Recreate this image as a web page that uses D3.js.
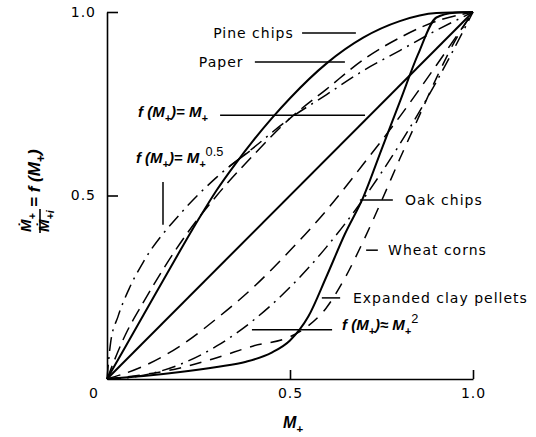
<!DOCTYPE html>
<html>
<head>
<meta charset="utf-8">
<script src="https://cdn.jsdelivr.net/npm/d3@7"></script>
<style>
  body { margin: 0; background: #fff; }
  svg { display: block; }
  .lbl { font-family: "DejaVu Sans", sans-serif; font-size: 14px; letter-spacing: 1px; fill: #000; }
  .math { font-family: "Liberation Sans", "DejaVu Sans", sans-serif; font-size: 14px; font-weight: bold; font-style: italic; fill: #000; }
  .tick text { font-family: "DejaVu Sans", sans-serif; font-size: 14px; letter-spacing: 1px; fill: #000; }
</style>
</head>
<body>
<svg width="536" height="437"></svg>
<script>
// values (M+ on x, f(M+) on y)
const pineM  = [0, 0.1, 0.2, 0.25, 0.3, 0.35, 0.4, 0.45, 0.5, 0.6, 0.7, 0.8, 0.9, 1];
const pineF  = [0, 0.175, 0.35, 0.435, 0.515, 0.585, 0.65, 0.71, 0.765, 0.86, 0.93, 0.975, 0.997, 1];
const paperM = [0, 0.05, 0.1, 0.2, 0.3, 0.4, 0.5, 0.6, 0.7, 0.8, 0.9, 1];
const paperF = [0, 0.12, 0.21, 0.37, 0.5, 0.61, 0.71, 0.79, 0.87, 0.93, 0.975, 1];
const linM   = [0, 1];
const linF   = [0, 1];
const sqrtM  = [0, 0.01, 0.03, 0.06, 0.1, 0.2, 0.3, 0.4, 0.5, 0.6, 0.7, 0.8, 0.9, 1];
const sqrtF  = [0, 0.1, 0.17, 0.245, 0.32, 0.45, 0.55, 0.63, 0.71, 0.775, 0.84, 0.895, 0.95, 1];
const oakM   = [0, 0.1, 0.2, 0.3, 0.38, 0.45, 0.5, 0.55, 0.6, 0.65, 0.7, 0.75, 0.8, 0.85, 0.9, 0.95, 1];
const oakF   = [0, 0.008, 0.019, 0.033, 0.047, 0.072, 0.105, 0.17, 0.28, 0.395, 0.495, 0.625, 0.755, 0.885, 0.985, 0.998, 1];
const wheatM = [0, 0.1, 0.2, 0.3, 0.4, 0.5, 0.55, 0.6, 0.65, 0.7, 0.75, 0.8, 0.85, 0.9, 0.95, 1];
const wheatF = [0, 0.012, 0.03, 0.058, 0.09, 0.115, 0.145, 0.195, 0.275, 0.375, 0.485, 0.6, 0.71, 0.82, 0.92, 1];
const clayM  = [0, 0.1, 0.2, 0.3, 0.4, 0.5, 0.6, 0.7, 0.8, 0.9, 1];
const clayF  = [0, 0.035, 0.09, 0.165, 0.25, 0.35, 0.46, 0.585, 0.715, 0.855, 1];
const sqM    = [0, 0.1, 0.2, 0.3, 0.4, 0.5, 0.6, 0.7, 0.8, 0.9, 1];
const sqF    = [0, 0.01, 0.04, 0.09, 0.16, 0.25, 0.36, 0.49, 0.64, 0.81, 1];

const xTicks = [0.5, 1.0];
const yTicks = [0.5, 1.0];

const svg = d3.select('svg');
const margin = { left: 107, top: 12 };
const inner = { width: 366, height: 367 };

const xScale = d3.scaleLinear().domain([0, 1]).range([0, inner.width]);
const yScale = d3.scaleLinear().domain([0, 1]).range([inner.height, 0]);

const g = svg.append('g').attr('transform', `translate(${margin.left},${margin.top})`);

// axes, ticks point inward
const xAxis = d3.axisBottom(xScale).tickValues(xTicks).tickFormat(d3.format('.1f'))
    .tickSizeInner(-9).tickSizeOuter(0).tickPadding(9);
const yAxis = d3.axisLeft(yScale).tickValues(yTicks).tickFormat(d3.format('.1f'))
    .tickSizeInner(-11).tickSizeOuter(0).tickPadding(11);

const xg = g.append('g').attr('transform', `translate(0,${inner.height})`).call(xAxis);
const yg = g.append('g').call(yAxis);
[xg, yg].forEach(a => {
    a.select('.domain').attr('stroke', '#000').attr('stroke-width', 1.6);
    a.selectAll('.tick line').attr('stroke', '#000').attr('stroke-width', 1.6);
});
g.append('text').attr('class', 'lbl')
    .attr('x', xScale(0) - 18).attr('y', yScale(0) + 19)
    .text('0');

const series = [
    { m: pineM,  f: pineF,  dash: null },
    { m: paperM, f: paperF, dash: '14,7' },
    { m: linM,   f: linF,   dash: null },
    { m: sqrtM,  f: sqrtF,  dash: '14,6,2,6' },
    { m: oakM,   f: oakF,   dash: null },
    { m: wheatM, f: wheatF, dash: '12,9' },
    { m: clayM,  f: clayF,  dash: '14,8' },
    { m: sqM,    f: sqF,    dash: '14,6,2,6' }
];

const line = d3.line()
    .x(d => xScale(d[0]))
    .y(d => yScale(d[1]))
    .curve(d3.curveMonotoneX);

g.selectAll('path.curve').data(series)
    .enter().append('path')
        .attr('class', 'curve')
        .attr('d', s => line(s.m.map((m, i) => [m, s.f[i]])))
        .attr('fill', 'none')
        .attr('stroke', '#000')
        .attr('stroke-width', s => s.dash ? 1.5 : 2)
        .attr('stroke-dasharray', s => s.dash);

// leader lines, in data coordinates
const leaders = [
    [[0.533, 0.943], [0.68, 0.943]],
    [[0.404, 0.864], [0.65, 0.864]],
    [[0.309, 0.719], [0.705, 0.719]],
    [[0.153, 0.537], [0.153, 0.42]],
    [[0.335, 0.58], [0.39, 0.621]],
    [[0.691, 0.488], [0.781, 0.488]],
    [[0.708, 0.351], [0.74, 0.351]],
    [[0.587, 0.221], [0.637, 0.221]],
    [[0.396, 0.134], [0.615, 0.134]]
];
g.selectAll('line.leader').data(leaders)
    .enter().append('line')
        .attr('class', 'leader')
        .attr('x1', d => xScale(d[0][0])).attr('y1', d => yScale(d[0][1]))
        .attr('x2', d => xScale(d[1][0])).attr('y2', d => yScale(d[1][1]))
        .attr('stroke', '#000').attr('stroke-width', 1.5);

const names = [
    { text: 'Pine chips', m: 0.29, f: 0.943 },
    { text: 'Paper', m: 0.251, f: 0.864 },
    { text: 'Oak chips', m: 0.814, f: 0.488 },
    { text: 'Wheat corns', m: 0.768, f: 0.351 },
    { text: 'Expanded clay pellets', m: 0.672, f: 0.221 }
];
g.selectAll('text.name').data(names)
    .enter().append('text')
        .attr('class', 'lbl name')
        .attr('x', d => xScale(d.m))
        .attr('y', d => yScale(d.f))
        .attr('dy', '0.36em')
        .text(d => d.text);

// math labels: parts of [text, kind]
const mathLabel = (parent, x, y, parts, size) => {
    const t = parent.append('text').attr('class', 'math')
        .attr('x', x).attr('y', y).attr('dy', '0.36em')
        .style('font-size', size + 'px');
    let shift = 0;
    parts.forEach(([txt, kind]) => {
        const target = kind === 'sub' ? 5 : kind === 'sup' ? -7 : 0;
        const sp = t.append('tspan').text(txt)
            .attr('dy', target - shift);
        if (kind === 'sub') sp.style('font-size', (size * 0.72) + 'px');
        if (kind === 'sup') sp.style('font-size', (size * 0.85) + 'px').style('font-weight', 'normal').style('font-style', 'normal');
        shift = target;
    });
    return t;
};
const fEq = [['f (M', 'n'], ['+', 'sub'], [')= M', 'n'], ['+', 'sub']];
mathLabel(g, xScale(0.085), yScale(0.714), fEq, 15);
mathLabel(g, xScale(0.079), yScale(0.589), fEq.concat([['0.5', 'sup']]), 15);
mathLabel(g, xScale(0.642), yScale(0.134),
    [['f (M', 'n'], ['+', 'sub'], [')\u2248 M', 'n'], ['+', 'sub'], ['2', 'sup']], 15);

// axis titles
mathLabel(svg, 283, 428, [['M', 'n'], ['+', 'sub']], 16);

const yl = svg.append('g').attr('transform', 'translate(39,205) rotate(-90)');
mathLabel(yl, -27, -8, [['\u1E40', 'n'], ['+', 'sub']], 15);
mathLabel(yl, -27, 10, [['\u1E40', 'n'], ['+i', 'sub']], 15);
yl.append('line').attr('x1', -28).attr('x2', -4).attr('y1', 1).attr('y2', 1)
    .attr('stroke', '#000').attr('stroke-width', 1.6);
mathLabel(yl, -2, 1, [['= f (M', 'n'], ['+', 'sub'], [')', 'n']], 17);
</script>
</body>
</html>
